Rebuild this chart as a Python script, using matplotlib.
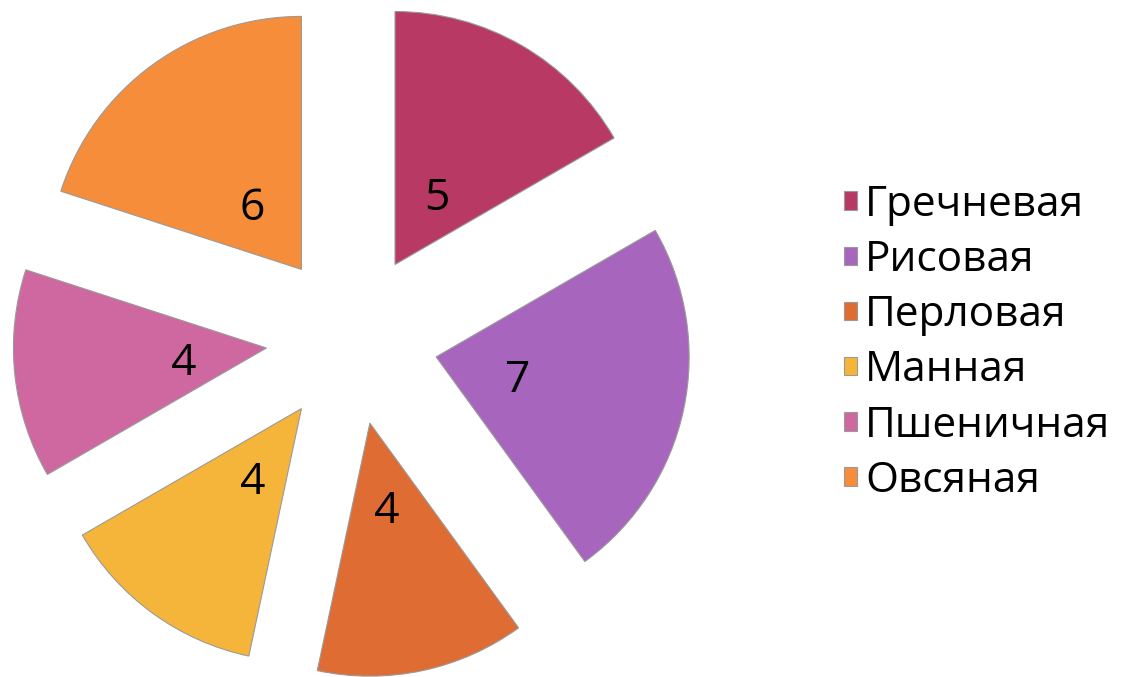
import matplotlib.pyplot as plt
from matplotlib.transforms import offset_copy

categories = ['Гречневая', 'Рисовая', 'Перловая', 'Манная', 'Пшеничная', 'Овсяная']
values = [5, 7, 4, 4, 4, 6]
colors = ['#B83A64', '#A865BE', '#DF6C32', '#F5B53A', '#CF67A0', '#F58D3A']

plt.rcParams['font.family'] = ['Open Sans', 'DejaVu Sans']

fig = plt.figure(figsize=(11.22, 6.77), dpi=100)
ax = fig.add_axes([0, 0, 1, 1])

total = sum(values)
wedges, texts, autotexts = ax.pie(
    values, colors=colors, startangle=90, counterclock=False,
    explode=[0.34] * len(values), radius=1,
    autopct=lambda p: '{:d}'.format(int(round(p * total / 100))),
    pctdistance=0.33,
    wedgeprops=dict(edgecolor='#9a9a9a', linewidth=0.8),
    textprops=dict(fontsize=32, color='black'),
)
# value labels sit a little lower in the original
for t in autotexts:
    t.set_transform(offset_copy(ax.transData, fig=fig, x=0, y=-5, units='points'))

# keep the same scale in both directions, radius = 253 px
ax.set_xlim(-352 / 253, (1122 - 352) / 253)
ax.set_ylim(-(677 - 339) / 253, 339 / 253)
ax.set_aspect('auto')
ax.axis('off')

leg = ax.legend(wedges, categories, loc='upper left',
                bbox_to_anchor=(844 / 1122, 1 - 184 / 677),
                bbox_transform=fig.transFigure,
                frameon=False, fontsize=30.5, borderpad=0, borderaxespad=0,
                handlelength=0.3, handleheight=0.3, handletextpad=0.2,
                labelspacing=0.31)

fig.savefig('out.png', dpi=100)
